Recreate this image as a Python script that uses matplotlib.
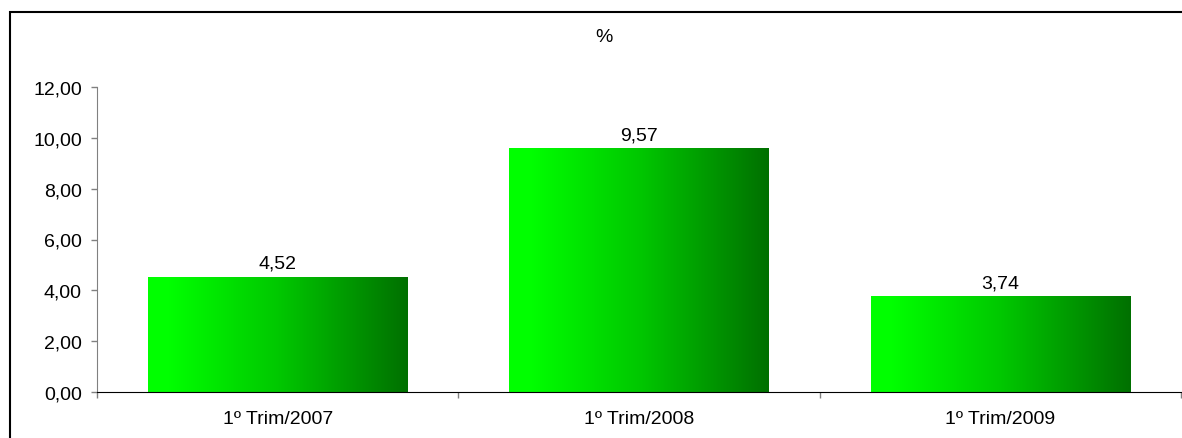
import matplotlib
matplotlib.use('Agg')
import matplotlib.pyplot as plt
import numpy as np
from matplotlib.colors import LinearSegmentedColormap
from matplotlib.patches import Rectangle
from matplotlib.ticker import FuncFormatter, FixedLocator

categories = ['1º Trim/2007', '1º Trim/2008', '1º Trim/2009']
values = [4.52, 9.57, 3.74]
title = '%'

plt.rcParams['font.family'] = ['Liberation Sans', 'DejaVu Sans']
plt.rcParams['font.size'] = 14

W, H = 1182, 439
fig = plt.figure(figsize=(W / 100, H / 100), dpi=100)
ax = fig.add_axes([97 / W, 1 - 393 / H, (1181 - 97) / W, (393 - 88) / H])

# green gradient like the old Excel fill
cmap = LinearSegmentedColormap.from_list(
    'excel_green', [(0, '#00ff00'), (0.08, '#00ff00'), (0.5, '#00c800'), (1, '#007000')])
grad = np.linspace(0, 1, 256).reshape(1, -1)

x = np.arange(len(categories)) + 0.5
bar_w = 0.717
bars = ax.bar(x, values, width=bar_w, color='none', edgecolor='none')
for b, v in zip(bars, values):
    x0, w, h = b.get_x(), b.get_width(), b.get_height()
    ax.imshow(grad, extent=[x0, x0 + w, 0, h], aspect='auto', cmap=cmap,
              interpolation='bilinear', zorder=2)
    ax.annotate(f'{v:.2f}'.replace('.', ','), (x0 + w / 2, h), xytext=(0, 4),
                textcoords='offset points', ha='center', va='bottom')

ax.set_xlim(0, len(categories))
ax.set_ylim(0, 12)
ax.set_yticks(np.arange(0, 13, 2))
ax.yaxis.set_major_formatter(FuncFormatter(lambda v, p: f'{v:.2f}'.replace('.', ',')))

# category boundaries as ticks, labels in the middle
ax.xaxis.set_major_locator(FixedLocator(np.arange(len(categories) + 1)))
ax.xaxis.set_minor_locator(FixedLocator(x))
ax.set_xticklabels([''] * (len(categories) + 1))
ax.set_xticklabels(categories, minor=True)
ax.tick_params(axis='x', which='major', length=4.3, color='#808080', width=1)
ax.tick_params(axis='x', which='minor', length=0, pad=13)
ax.tick_params(axis='y', length=4.3, color='#808080', width=1, pad=6.5)

for s in ['top', 'right']:
    ax.spines[s].set_visible(False)
ax.spines['left'].set_color('#808080')
ax.spines['bottom'].set_color('black')
ax.spines['bottom'].set_zorder(3)

fig.text(604 / W, 1 - 37 / H, title, ha='center', va='center')

# frame around the chart area, cut off at right and bottom
fig.patches.append(Rectangle((10 / W, -0.1), 1.2, 1 - 13 / H + 0.1, transform=fig.transFigure,
                             fill=False, edgecolor='black', linewidth=1.5))

fig.savefig('out.png', dpi=100)
